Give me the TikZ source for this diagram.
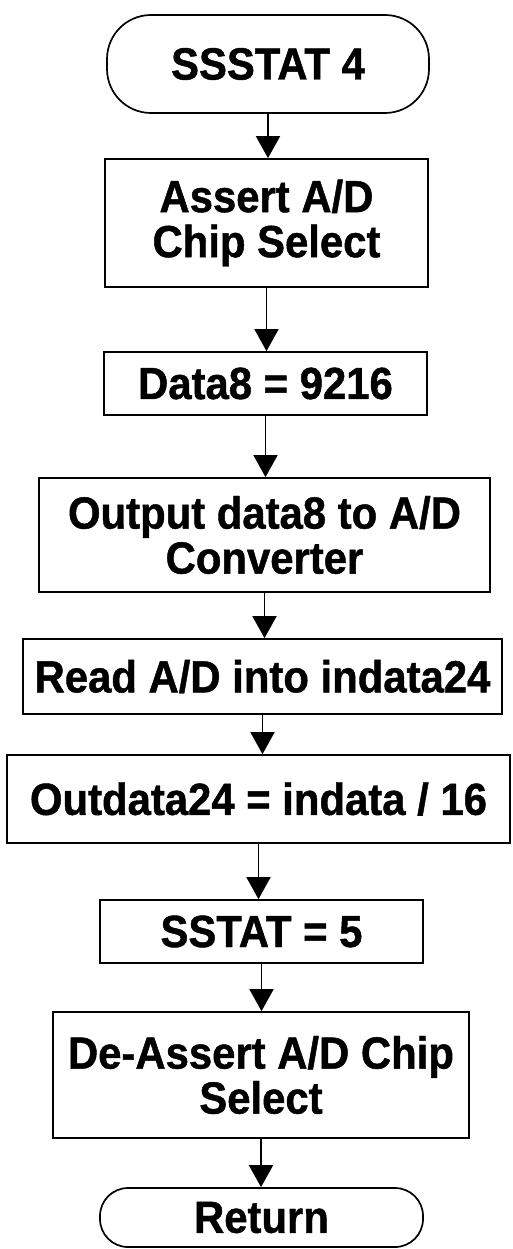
\documentclass[tikz,border=0pt]{standalone}
\usepackage{fontspec}
\setmainfont{Liberation Sans}[FakeStretch=0.93, FakeBold=1]
\usetikzlibrary{arrows.meta}

\begin{document}
\begin{tikzpicture}[x=1pt, y=1pt, line width=1.7pt,
  font=\fontsize{45}{45}\selectfont\bfseries,
  box/.style={draw, rectangle, inner sep=0pt, align=center},
  term/.style={draw, rectangle, inner sep=0pt},
  flow/.style={-{Triangle[width=24pt,length=22pt]}}]
\useasboundingbox (0,0) rectangle (512,-1249);
% terminals and steps
\node[term, rounded corners=44pt, minimum width=322pt, minimum height=98pt] (sstat) at (268,-64) {SSSTAT 4};
\node[box, minimum width=323pt, minimum height=128pt] (assert) at (266.5,-223) {Assert A/D\\Chip Select};
\node[box, minimum width=323pt, minimum height=63pt] (data8) at (265.5,-383.5) {Data8 = 9216};
\node[box, minimum width=451pt, minimum height=114pt] (output) at (264.5,-535) {Output data8 to A/D\\Converter};
\node[box, minimum width=479pt, minimum height=75pt] (readad) at (262.5,-676.5) {Read A/D into indata24};
\node[box, minimum width=503pt, minimum height=88pt] (outdata) at (258.5,-799) {Outdata24 = indata / 16};
\node[box, minimum width=323pt, minimum height=63pt] (sstat5) at (261.5,-931.5) {SSTAT = 5};
\node[box, minimum width=416pt, minimum height=126pt] (deassert) at (261,-1075) {De-Assert A/D Chip\\Select};
\node[term, rounded corners=28pt, minimum width=323pt, minimum height=59pt] (ret) at (261.5,-1217.5) {Return};
% arrows
\draw[flow] (sstat.south) -- (sstat.south |- assert.north);
\draw[flow] (assert.south) -- (assert.south |- data8.north);
\draw[flow] (data8.south) -- (data8.south |- output.north);
\draw[flow] (output.south) -- (output.south |- readad.north);
\draw[flow] (readad.south) -- (readad.south |- outdata.north);
\draw[flow] (outdata.south) -- (outdata.south |- sstat5.north);
\draw[flow] (sstat5.south) -- (sstat5.south |- deassert.north);
\draw[flow] (deassert.south) -- (deassert.south |- ret.north);
\end{tikzpicture}
\end{document}
